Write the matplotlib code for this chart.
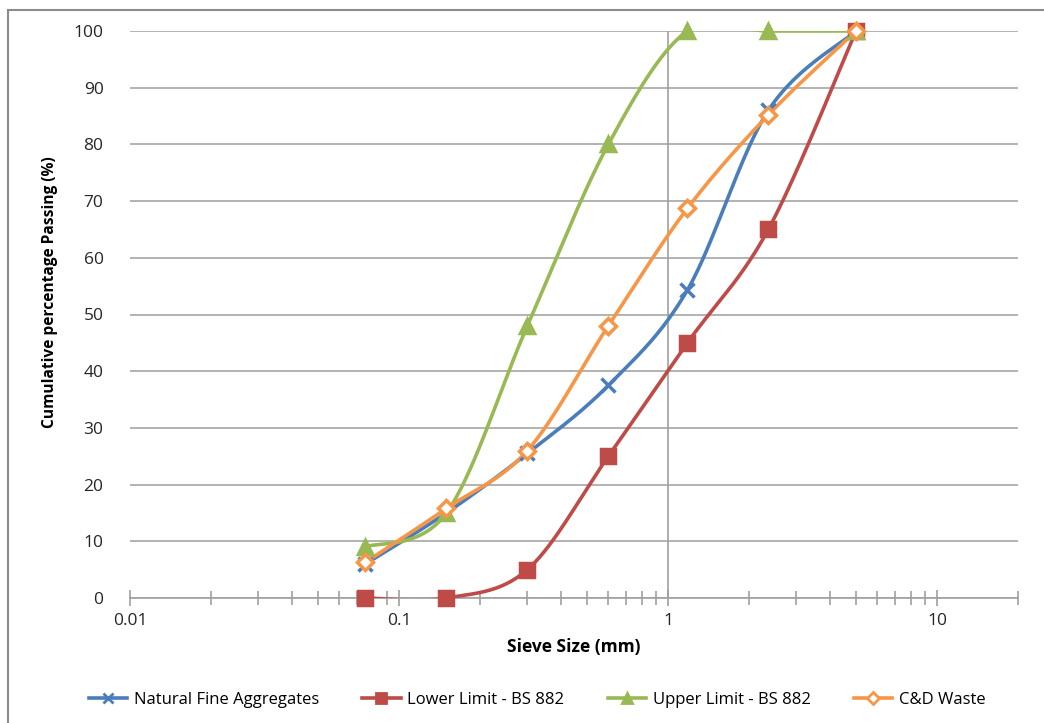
import numpy as np
import matplotlib
matplotlib.use("Agg")
import matplotlib.pyplot as plt
from matplotlib.lines import Line2D
from matplotlib.patches import Rectangle
from matplotlib.ticker import FuncFormatter, LogLocator

sieve = [0.075, 0.15, 0.3, 0.6, 1.18, 2.36, 5.0]
natural = [6.0, 15.0, 25.5, 37.5, 54.3, 86.0, 100.0]
lower = [0.0, 0.0, 5.0, 25.0, 45.0, 65.0, 100.0]
upper = [9.0, 15.0, 48.0, 80.0, 100.0, 100.0, 100.0]
cd_waste = [6.3, 15.8, 26.0, 48.0, 68.7, 85.2, 100.0]

names = ["Natural Fine Aggregates", "Lower Limit - BS 882", "Upper Limit - BS 882", "C&D Waste"]
colors = ["#4A7EBB", "#BE4B48", "#98B954", "#F79646"]
series = [natural, lower, upper, cd_waste]


def smooth(xs, ys, n=40):
    # excel-style smoothing: catmull-rom bezier in log x space
    u = np.log10(xs)
    v = np.asarray(ys, dtype=float)
    P = np.column_stack([u, v])
    Pext = np.vstack([P[0], P, P[-1]])
    out = []
    t = np.linspace(0, 1, n)[:, None]
    for i in range(len(P) - 1):
        p0, p1, p2, p3 = Pext[i], Pext[i + 1], Pext[i + 2], Pext[i + 3]
        c1 = p1 + (p2 - p0) / 6
        c2 = p2 - (p3 - p1) / 6
        seg = ((1 - t) ** 3) * p1 + 3 * ((1 - t) ** 2) * t * c1 + 3 * (1 - t) * t ** 2 * c2 + t ** 3 * p2
        out.append(seg)
    out = np.vstack(out)
    return 10 ** out[:, 0], out[:, 1]


fig = plt.figure(figsize=(10.44, 7.23), dpi=100)
fig.patches.append(Rectangle((8 / 1044, -0.1), 1.2, 1 - 10 / 723 + 0.1, transform=fig.transFigure,
                             fill=False, edgecolor="#8C8C8C", linewidth=1.5))

ax = fig.add_axes([130 / 1044, 125 / 723, 888 / 1044, 567 / 723])
ax.set_xscale("log")
ax.set_xlim(0.01, 20)
ax.set_ylim(0, 100)

for s in ["top", "right", "left"]:
    ax.spines[s].set_visible(False)
ax.spines["bottom"].set_color("#A0A0A0")
ax.spines["bottom"].set_linewidth(1.2)

ax.set_yticks(np.arange(0, 101, 10))
ax.yaxis.grid(True, color="#A6A6A6", linewidth=1.2)
ax.set_axisbelow(True)
ax.axvline(1, 0, 1, color="#A0A0A0", linewidth=1.2, zorder=1)

ax.xaxis.set_major_locator(LogLocator(base=10, numticks=10))
ax.xaxis.set_minor_locator(LogLocator(base=10, subs=np.arange(2, 10), numticks=20))
ax.xaxis.set_major_formatter(FuncFormatter(lambda x, p: "%g" % x))
ax.tick_params(axis="x", which="major", direction="inout", length=12, width=1.2, color="#A0A0A0",
               labelsize=12.5, pad=5)
ax.tick_params(axis="x", which="minor", direction="inout", length=10, width=1.2, color="#A0A0A0")
ax.tick_params(axis="y", length=0, labelsize=12.5, pad=19)
for lab in ax.get_xticklabels() + ax.get_yticklabels():
    lab.set_family("Open Sans")
    lab.set_color("#262626")

markers = ["x", "s", "^", "D"]
msizes = [10, 10, 10, 8]
handles = []
for vals, c, m, ms, nm in zip(series, colors, markers, msizes, names):
    sx, sy = smooth(sieve, vals)
    ax.plot(sx, sy, color=c, linewidth=2.6, zorder=3)
    if m == "D":
        ax.plot(sieve, vals, linestyle="none", marker=m, markersize=ms, markerfacecolor="white",
                markeredgecolor=c, markeredgewidth=2.5, clip_on=False, zorder=4)
        h = Line2D([], [], color=c, linewidth=2.6, marker=m, markersize=6, markerfacecolor="white",
                   markeredgecolor=c, markeredgewidth=2)
    else:
        ax.plot(sieve, vals, linestyle="none", marker=m, markersize=ms, color=c,
                markeredgewidth=2.5, clip_on=False, zorder=4)
        h = Line2D([], [], color=c, linewidth=2.6, marker=m, markersize=7, markeredgewidth=2)
    handles.append(h)

ax.set_xlabel("Sieve Size (mm)", fontsize=12.5, fontweight="bold", family="Open Sans", labelpad=6)
fig.text(50 / 1044, 1 - 292 / 723, "Cumulative percentage Passing (%)", rotation=90, ha="center",
         va="center", fontsize=11.2, fontweight="bold", family="Open Sans")

fig.legend(handles, names, loc="center", bbox_to_anchor=(537 / 1044, 23 / 723), ncol=4, frameon=False,
           handlelength=2.3, columnspacing=2.6, handletextpad=0.4,
           prop={"family": "Open Sans", "size": 12})

fig.savefig("out.png", dpi=100)
